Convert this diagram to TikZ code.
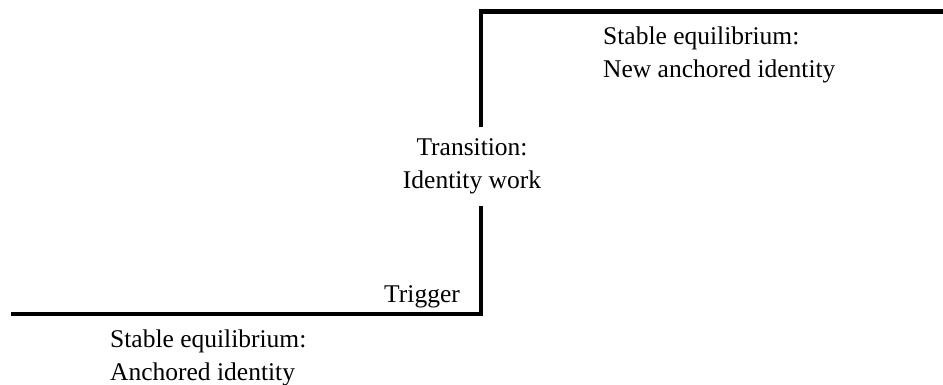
\documentclass[tikz,border=0pt]{standalone}
\usepackage{fontspec}
\setmainfont{Liberation Serif}
\usepackage{tikz}
\tikzset{phasetext/.style={inner sep=0pt, align=left, font=\fontsize{25.5}{33}\selectfont},
stepline/.style={line width=4.8pt}}
\begin{document}
\begin{tikzpicture}[x=1pt,y=-1pt]
\useasboundingbox (0,0) rectangle (943,385);
\coordinate (lowstart) at (11,314);
\coordinate (lowcorner) at (481,314);
\coordinate (highcorner) at (481,11.5);
\coordinate (highend) at (943,11.5);
\node[phasetext, anchor=base east] (trigger) at (460,302) {Trigger};
\node[phasetext, align=center, minimum height=78pt] (trans) at (472,166.5) {Transition:\\Identity work};
\node[phasetext, anchor=base west] (oldid) at (110,380.5) {Stable equilibrium:\\Anchored identity};
\node[phasetext, anchor=base west] (newid) at (603,78) {Stable equilibrium:\\New anchored identity};
\draw[stepline] (lowstart) -- (lowcorner) -- (lowcorner |- trans.south);
\draw[stepline] (lowcorner |- trans.north) -- (highcorner) -- (highend);
\end{tikzpicture}
\end{document}
